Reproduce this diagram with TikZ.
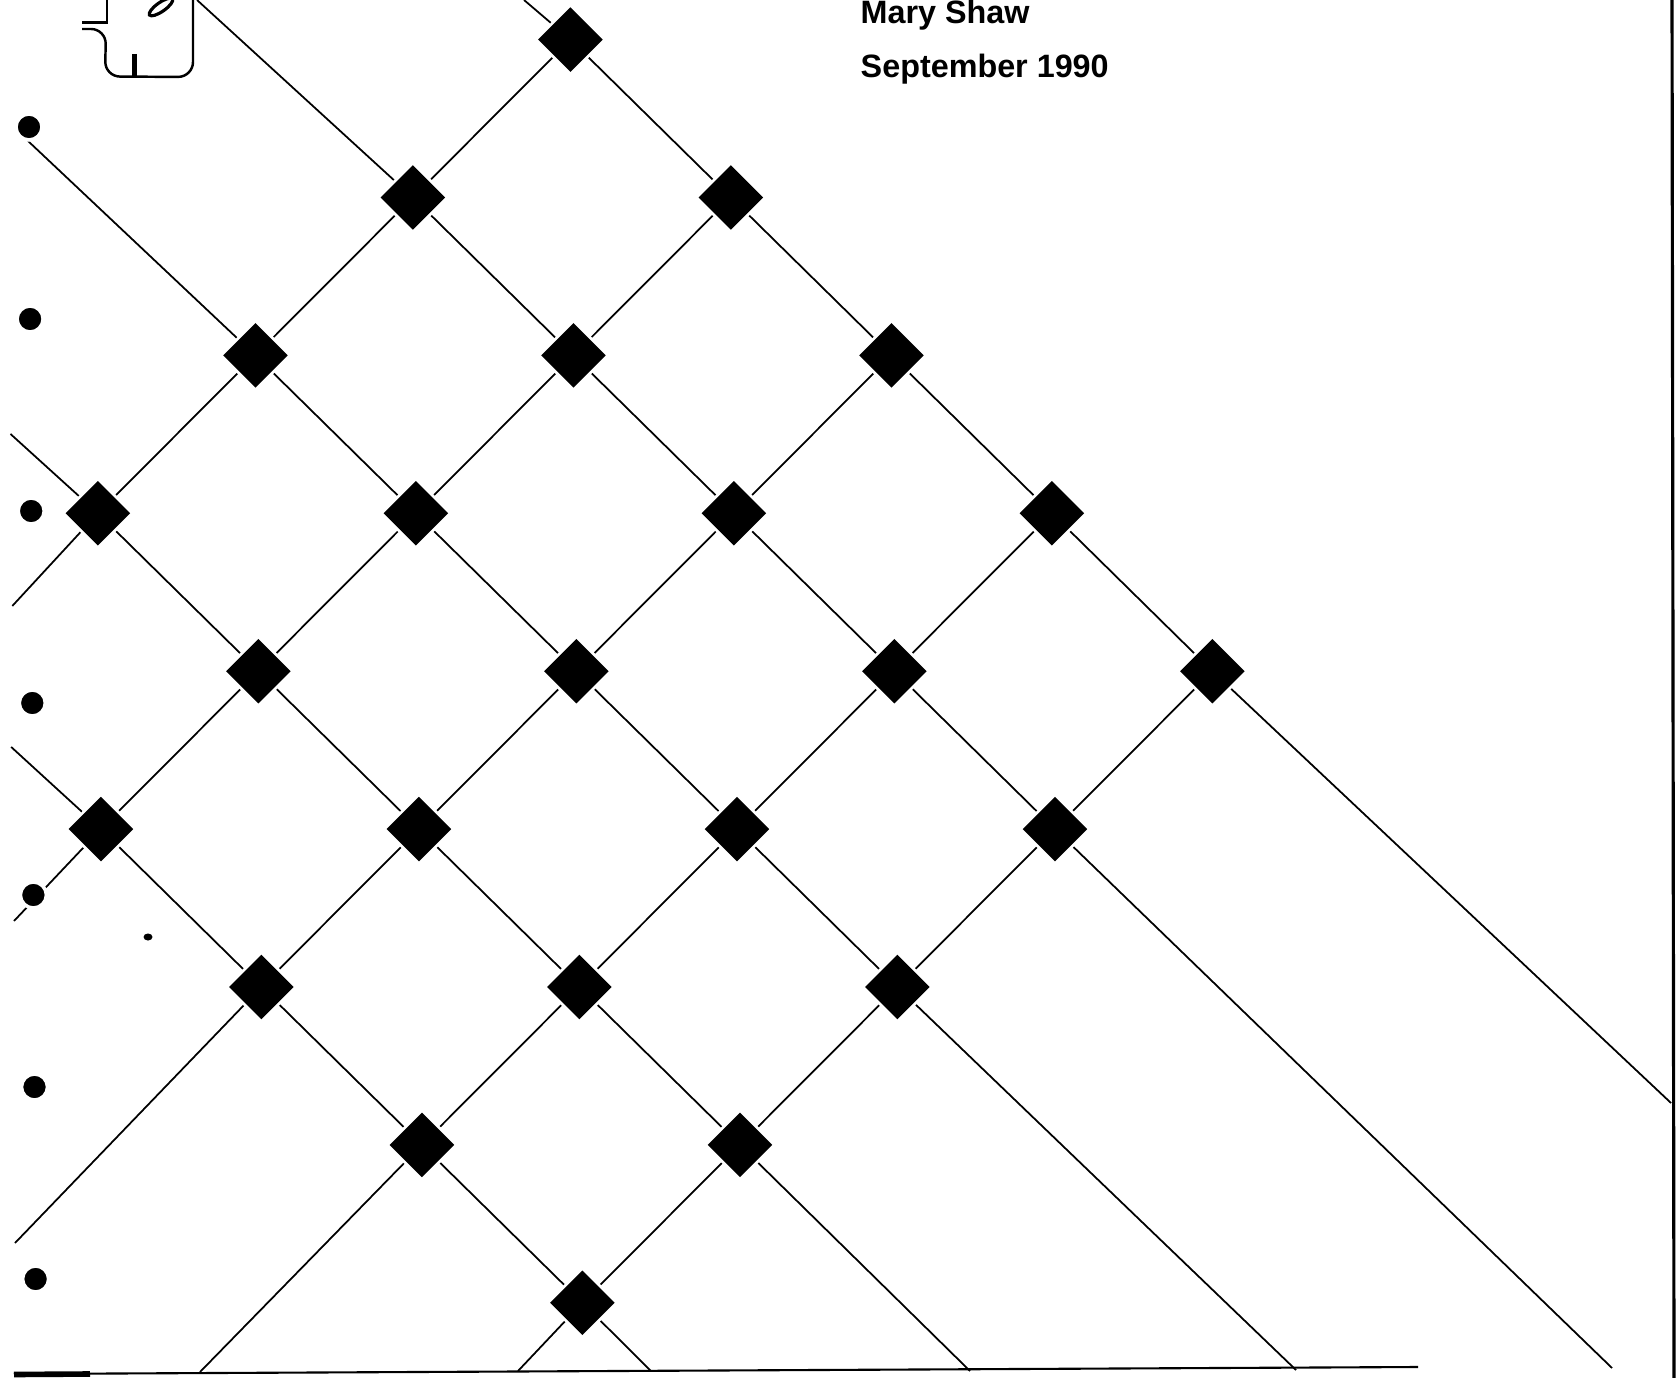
\documentclass[tikz,border=0pt]{standalone}
\usepackage{fontspec}
\setmainfont{Liberation Sans}
\usetikzlibrary{shapes.geometric}

\tikzset{
  gem/.style={diamond, fill=black, inner sep=0pt, minimum width=0.67cm,
    minimum height=0.67cm, outer sep=0.03cm},
  hole/.style={circle, fill=black, draw=white, line width=1pt, inner sep=0pt,
    minimum size=0.26cm},
  thread/.style={line width=0.5pt},
  cover/.style={anchor=base west, inner sep=0pt,
    font=\bfseries\fontsize{9.2}{11}\selectfont},
}

\begin{document}
\begin{tikzpicture}[y=-1cm]
    \useasboundingbox (0,0) rectangle (16.78,13.78);

    % Diamond lattice (u = rising line, v = falling line), one corner missing
    \foreach \v in {0,...,4} {
        \pgfmathtruncatemacro{\first}{\v==4 ? 1 : 0}
        \foreach \u in {\first,...,4}
            \node[gem] (d-\u-\v) at ({5.704+1.605*\u-1.575*\v},{0.396+1.579*(\u+\v)}) {};
    }

    % Loose ends of the lines
    \foreach \v/\x/\y in {0/5.24/0, 1/1.97/0, 2/0.28/1.41, 3/0.105/4.34, 4/0.112/7.47}
        \coordinate (nw-\v) at (\x,\y);
    \foreach \v/\x/\y in {0/16.71/11.03, 1/16.12/13.68, 2/12.96/13.70, 3/9.70/13.71, 4/6.51/13.71}
        \coordinate (se-\v) at (\x,\y);
    \foreach \u/\x/\y in {0/0.123/6.06, 1/0.14/9.21, 2/0.15/12.43, 3/2.00/13.72, 4/5.18/13.71}
        \coordinate (sw-\u) at (\x,\y);

    % Falling lines
    \foreach \v in {0,...,4} {
        \pgfmathtruncatemacro{\first}{\v==4 ? 1 : 0}
        \draw[thread] (nw-\v) -- (d-\first-\v);
        \foreach \u in {\first,...,3} {
            \pgfmathtruncatemacro{\n}{\u+1}
            \draw[thread] (d-\u-\v) -- (d-\n-\v);
        }
        \draw[thread] (d-4-\v) -- (se-\v);
    }

    % Rising lines (they stop at the top diamond)
    \foreach \u in {0,...,4} {
        \pgfmathtruncatemacro{\last}{\u==0 ? 3 : 4}
        \pgfmathtruncatemacro{\stop}{\last-1}
        \foreach \v in {0,...,\stop} {
            \pgfmathtruncatemacro{\n}{\v+1}
            \draw[thread] (d-\u-\v) -- (d-\u-\n);
        }
        \draw[thread] (d-\u-\last) -- (sw-\u);
    }

    % Row of dots down the left edge
    \foreach \k in {0,...,6}
        \node[hole] (hole-\k) at ({0.29+0.011*\k},{1.27+1.92*\k}) {};
    \fill (1.48,9.37) ellipse (0.045 and 0.035);

    % Corner of the label box, top left
    \draw[line width=0.7pt] (1.07,-0.05) -- (1.07,0.225) -- (0.82,0.225);
    \draw[line width=0.7pt, rounded corners=0.15cm]
        (0.82,0.29) -- (1.06,0.29) -- (1.05,0.765) -- (1.93,0.77) -- (1.93,-0.05);
    \draw[line width=1.3pt] (1.343,0.54) -- (1.343,0.765);
    \draw[line width=0.9pt, rotate around={35:(1.61,0.07)}] (1.61,0.07) ellipse (0.14 and 0.045);

    % Author and date
    \node[cover] (author) at (8.60,0.24) {Mary Shaw};
    \node[cover] (date) at (8.60,0.78) {September 1990};

    % Page rules
    \draw[line width=0.9pt] (16.72,0) -- (16.74,13.78);
    \draw[line width=0.6pt] (0.14,13.74) -- (14.18,13.67);
    \draw[line width=1.6pt] (0.14,13.745) -- (0.90,13.74);
\end{tikzpicture}
\end{document}
